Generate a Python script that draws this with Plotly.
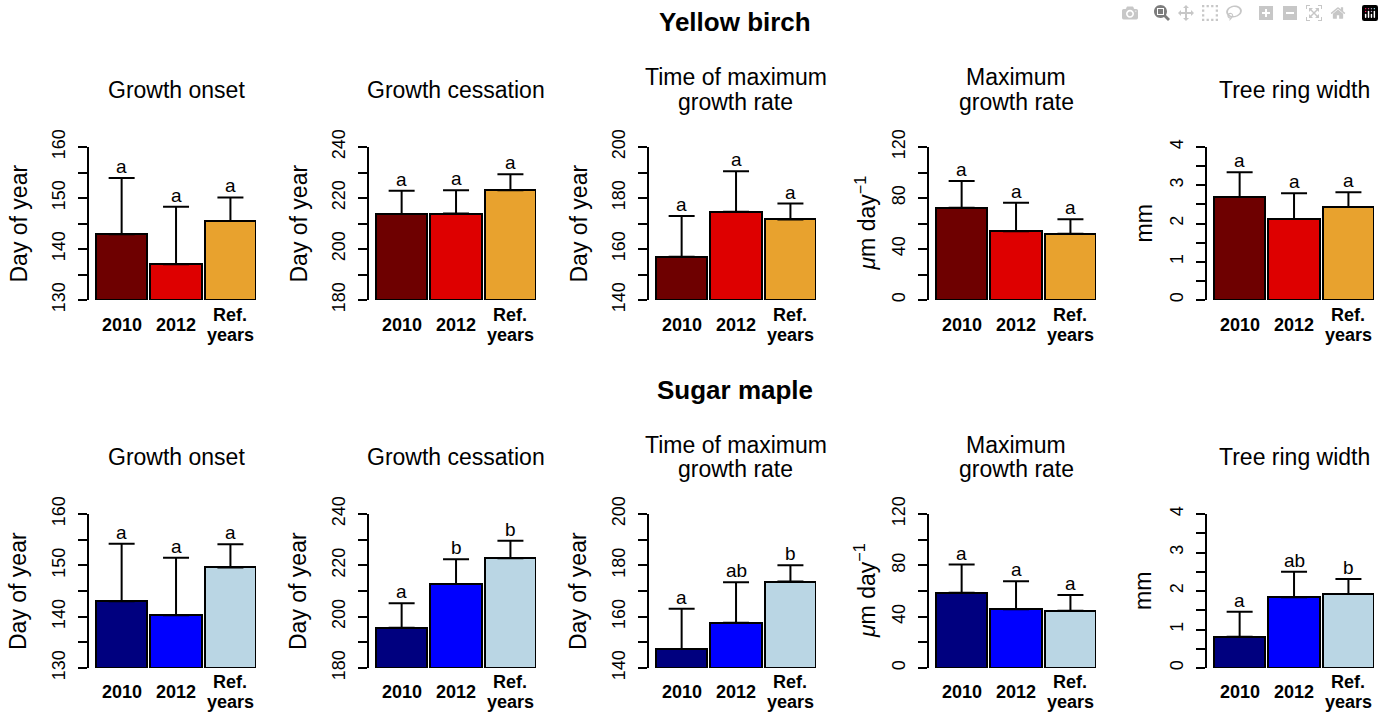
import plotly.graph_objects as go

# ---------------- data ----------------
categories = ["2010", "2012", "Ref.<br>years"]
panel_titles = ["Growth onset", "Growth cessation", "Time of maximum<br>growth rate",
                "Maximum<br>growth rate", "Tree ring width"]
y_titles = ["Day of year", "Day of year", "Day of year",
            "<i>μ</i>m day<sup>−1</sup>", "mm"]
row_titles = ["Yellow birch", "Sugar maple"]

y_ranges = [(130, 160), (180, 240), (140, 200), (0, 120), (0, 4)]
y_major = [[130, 140, 150, 160], [180, 200, 220, 240], [140, 160, 180, 200],
           [0, 40, 80, 120], [0, 1, 2, 3, 4]]
y_minor_step = [5, 10, 10, 20, 0.5]

# yellow birch: means and upper error limits
birch_mean = [[142.9, 137.0, 145.5], [213.7, 213.9, 223.0], [157.0, 174.6, 171.6],
              [72.3, 54.0, 51.9], [2.69, 2.12, 2.43]]
birch_upper = [[153.9, 148.3, 150.1], [222.8, 223.0, 229.3], [172.9, 190.5, 177.8],
               [93.4, 76.2, 63.4], [3.34, 2.79, 2.82]]
birch_letters = [["a", "a", "a"], ["a", "a", "a"], ["a", "a", "a"],
                 ["a", "a", "a"], ["a", "a", "a"]]

# sugar maple
maple_mean = [[143.0, 140.3, 149.6], [195.7, 212.7, 222.8], [147.4, 157.6, 173.7],
              [58.7, 45.7, 44.6], [0.81, 1.84, 1.92]]
maple_upper = [[154.2, 151.5, 154.1], [205.2, 222.4, 229.6], [163.1, 173.4, 180.0],
               [80.6, 67.6, 56.9], [1.46, 2.50, 2.31]]
maple_letters = [["a", "a", "a"], ["a", "b", "b"], ["a", "ab", "b"],
                 ["a", "a", "a"], ["a", "ab", "b"]]

birch_colors = ["#6E0000", "#DE0000", "#E8A22E"]
maple_colors = ["#00007F", "#0000FF", "#BAD6E4"]

# ---------------- layout geometry (pixels) ----------------
W, H = 1384, 715
axis_px = [89, 369, 649, 929, 1207]
panel_w = 167
row_px = [(147, 300), (514, 668)]
row_title_y = [22, 390]
panel_title_y = [90, 457]
title_line_gap = 25
cat_label_y = [325, 692]
cat_line_gap = 20
ytitle_off = [71, 71, 71, 64, 64]
FONT = "Liberation Sans, Arial, Helvetica, sans-serif"

def px_x(p):
    return p / W

def px_y(p):
    return 1 - p / H

def line_offsets(n, gap):
    return [(k - (n - 1) / 2) * gap for k in range(n)]

fig = go.Figure()
annotations = []

rows = [(birch_mean, birch_upper, birch_letters, birch_colors),
        (maple_mean, maple_upper, maple_letters, maple_colors)]

idx = 0
for r, (means, uppers, letters, colors) in enumerate(rows):
    for c in range(5):
        idx += 1
        xa = "x" if idx == 1 else f"x{idx}"
        ya = "y" if idx == 1 else f"y{idx}"
        lo, hi = y_ranges[c]
        xs = list(range(len(categories)))
        vals = means[c]
        ups = uppers[c]
        fig.add_trace(go.Bar(
            x=xs, y=[v - lo for v in vals], base=[lo] * len(vals),
            width=0.94,
            marker=dict(color=colors, line=dict(color="black", width=2)),
            error_y=dict(type="data", symmetric=False,
                         array=[u - v for u, v in zip(ups, vals)],
                         arrayminus=[0] * len(vals),
                         color="black", thickness=2, width=13),
            xaxis=xa, yaxis=ya, showlegend=False, hoverinfo="skip",
        ))
        # axes
        x0 = px_x(axis_px[c])
        x1 = px_x(axis_px[c] + panel_w)
        y0 = px_y(row_px[r][1])
        y1 = px_y(row_px[r][0])
        xkey = "xaxis" if idx == 1 else f"xaxis{idx}"
        ykey = "yaxis" if idx == 1 else f"yaxis{idx}"
        fig.update_layout(**{
            xkey: dict(domain=[x0, x1], anchor=ya, range=[-0.6, 2.47],
                       automargin=False,
                       showgrid=False, zeroline=False, showline=False,
                       showticklabels=False, ticks=""),
            ykey: dict(domain=[y0, y1], anchor=xa, range=[lo, hi],
                       automargin=False,
                       showgrid=False, zeroline=False, showline=True,
                       linecolor="black", linewidth=2, ticks="outside",
                       ticklen=9, tickwidth=2, tickcolor="black",
                       tickmode="array", tickvals=y_major[c],
                       ticktext=[str(t) for t in y_major[c]],
                       minor=dict(tick0=lo, dtick=y_minor_step[c], ticks="outside",
                                  ticklen=9, tickwidth=2, tickcolor="black",
                                  showgrid=False),
                       tickangle=-90, ticklabelstandoff=6,
                       tickfont=dict(family=FONT, size=18, color="black")),
        })
        # letters
        for i, (u, L) in enumerate(zip(ups, letters[c])):
            annotations.append(dict(x=i, y=u, xref=xa, yref=ya, text=L,
                                    showarrow=False, yanchor="bottom", yshift=-1,
                                    font=dict(family=FONT, size=19, color="black")))
        # category labels (each line placed separately for tight line spacing)
        for i, cat in enumerate(categories):
            parts = cat.split("<br>")
            for off, part in zip(line_offsets(len(parts), cat_line_gap), parts):
                annotations.append(dict(x=i, y=px_y(cat_label_y[r] + off), xref=xa,
                                        yref="paper", text=f"<b>{part}</b>",
                                        showarrow=False, yanchor="middle",
                                        xanchor="center",
                                        font=dict(family=FONT, size=18, color="black")))
        # panel title
        parts = panel_titles[c].split("<br>")
        for off, part in zip(line_offsets(len(parts), title_line_gap), parts):
            annotations.append(dict(x=px_x(axis_px[c] + 87),
                                    y=px_y(panel_title_y[r] + off),
                                    xref="paper", yref="paper", text=part,
                                    showarrow=False, xanchor="center", yanchor="middle",
                                    font=dict(family=FONT, size=23, color="black")))
        # y title
        annotations.append(dict(x=px_x(axis_px[c] - ytitle_off[c]),
                                y=px_y((row_px[r][0] + row_px[r][1]) / 2),
                                xref="paper", yref="paper", text=y_titles[c],
                                showarrow=False, textangle=-90,
                                xanchor="center", yanchor="middle",
                                font=dict(family=FONT, size=23, color="black")))
    annotations.append(dict(x=px_x(735), y=px_y(row_title_y[r]), xref="paper", yref="paper",
                            text=f"<b>{row_titles[r]}</b>", showarrow=False,
                            xanchor="center", yanchor="middle",
                            font=dict(family=FONT, size=26, color="black")))

fig.update_layout(width=W, height=H, margin=dict(l=0, r=0, t=0, b=0, autoexpand=False),
                  paper_bgcolor="white", plot_bgcolor="white",
                  bargap=0, annotations=annotations,
                  font=dict(family=FONT, color="black"))

fig.write_html("out.html", post_script="document.body.style.margin='0';")
